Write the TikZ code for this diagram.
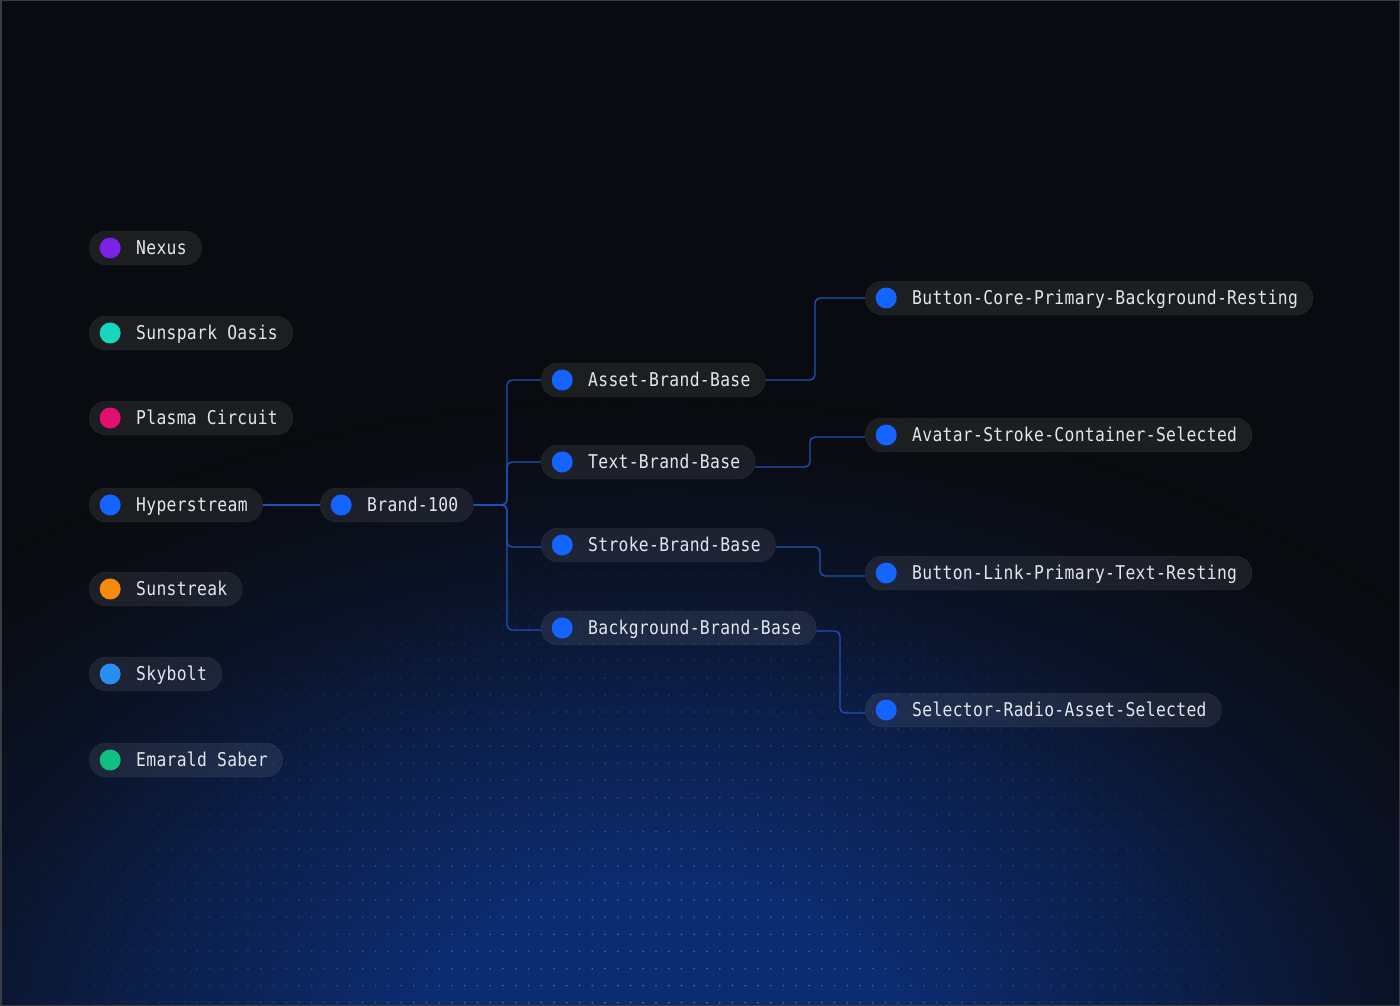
\documentclass[tikz,border=0pt]{standalone}
\usepackage{fontspec}
\setmonofont{DejaVu Sans Mono}[FakeStretch=0.86, LetterSpace=1.7]
\usetikzlibrary{calc}
\definecolor{bgc}{RGB}{10,11,16}
\definecolor{glowc}{RGB}{12,44,112}
\definecolor{dotc}{RGB}{85,120,200}
\definecolor{framec}{RGB}{58,60,66}
\definecolor{linec}{RGB}{30,82,185}
\definecolor{txt}{RGB}{226,230,238}
\definecolor{cpurple}{RGB}{122,34,232}
\definecolor{cteal}{RGB}{22,214,190}
\definecolor{cpink}{RGB}{226,14,112}
\definecolor{cblue}{RGB}{20,100,255}
\definecolor{corange}{RGB}{245,138,14}
\definecolor{csky}{RGB}{42,142,240}
\definecolor{cgreen}{RGB}{16,192,127}
\colorlet{glowmid}{glowc!60!bgc}
\colorlet{glowlow}{glowc!25!bgc}
\pgfdeclareradialshading{glow}{\pgfpoint{0bp}{0bp}}{color(0bp)=(glowc); color(6bp)=(glowc); color(13bp)=(glowmid); color(18bp)=(glowlow); color(24bp)=(bgc); color(50bp)=(bgc)}
\tikzset{
  pill/.style={draw=white, draw opacity=0.08, fill=white, fill opacity=0.08,
    text opacity=1, rounded corners=17pt, minimum height=34pt,
    inner ysep=0pt, inner xsep=15pt, text height=13.9pt, text depth=0pt,
    anchor=west, font=\ttfamily\fontsize{19}{22}\selectfont, text=txt,
    path picture={\fill[#1, fill opacity=1] ([xshift=21pt]path picture bounding box.west) circle (10.5pt);}},
  conn/.style={draw=linec, line width=1.3pt, rounded corners=5pt}
}
\newcommand{\pad}{\hspace*{32pt}}
\begin{document}
\begin{tikzpicture}[x=1pt,y=-1pt]
\useasboundingbox (0,0) rectangle (1400,1006);
% background
\fill[bgc] (0,0) rectangle (1400,1006);
\begin{scope}
  \clip (0,0) rectangle (1400,1006);
  \fill[shading=glow] (660,1040) ellipse (1000 and 640);
  \foreach \i in {0,...,108}{
    \foreach \j in {0,...,31}{
      \pgfmathsetmacro\dx{(5.75+12.75*\i-660)/680}
      \pgfmathsetmacro\dy{(472.6+17.1*\j-1010)/500}
      \pgfmathsetmacro\op{max(0,0.85*(1-sqrt(\dx*\dx+\dy*\dy)))}
      \ifdim\op pt>0.01pt
        \fill[dotc, opacity=\op] ({5.75+12.75*\i},{472.6+17.1*\j}) circle (1);
      \fi
    }
  }
\end{scope}
\draw[framec, line width=1.5pt] (0.75,0.75) rectangle (1399.25,1005.25);

% left column
\node[pill=cpurple] (nexus)     at (89,248) {\pad Nexus};
\node[pill=cteal]   (sunspark)  at (89,333) {\pad Sunspark Oasis};
\node[pill=cpink]   (plasma)    at (89,418) {\pad Plasma Circuit};
\node[pill=cblue]   (hyper)     at (89,505) {\pad Hyperstream};
\node[pill=corange] (sunstreak) at (89,589) {\pad Sunstreak};
\node[pill=csky]    (skybolt)   at (89,674) {\pad Skybolt};
\node[pill=cgreen]  (emarald)   at (89,760) {\pad Emarald Saber};

% tree
\node[pill=cblue] (brand)  at (320,505) {\pad Brand-100};
\node[pill=cblue] (asset)  at (541,380) {\pad Asset-Brand-Base};
\node[pill=cblue] (textb)  at (541,462) {\pad Text-Brand-Base};
\node[pill=cblue] (stroke) at (541,545) {\pad Stroke-Brand-Base};
\node[pill=cblue] (bgb)    at (541,628) {\pad Background-Brand-Base};
\node[pill=cblue] (bcore)    at (865,298) {\pad Button-Core-Primary-Background-Resting};
\node[pill=cblue] (avatar)   at (865,435) {\pad Avatar-Stroke-Container-Selected};
\node[pill=cblue] (blink)    at (865,573) {\pad Button-Link-Primary-Text-Resting};
\node[pill=cblue] (selector) at (865,710) {\pad Selector-Radio-Asset-Selected};

\coordinate (trunk) at (507,0);
\coordinate (j1) at (815,0);
\coordinate (j2) at (810,0);
\coordinate (j3) at (820,0);
\coordinate (j4) at (840,0);

\draw[conn] (hyper.east) -- (brand.west);
\draw[conn] (brand.east) -- (brand.east -| trunk) |- (asset.west);
\draw[conn] (brand.east) -- (brand.east -| trunk) |- (textb.west);
\draw[conn] (brand.east) -- (brand.east -| trunk) |- ([yshift=-2pt]stroke.west);
\draw[conn] (brand.east) -- (brand.east -| trunk) |- ([yshift=-2pt]bgb.west);
\draw[conn] (asset.east) -- (asset.east -| j1) |- (bcore.west);
\draw[conn] ([yshift=-5pt]textb.east) -- ([yshift=-5pt]textb.east -| j2) |- ([yshift=-2pt]avatar.west);
\draw[conn] ([yshift=-2pt]stroke.east) -- ([yshift=-2pt]stroke.east -| j3) |- ([yshift=-3pt]blink.west);
\draw[conn] ([yshift=-3pt]bgb.east) -- ([yshift=-3pt]bgb.east -| j4) |- ([yshift=-3pt]selector.west);
\end{tikzpicture}
\end{document}
